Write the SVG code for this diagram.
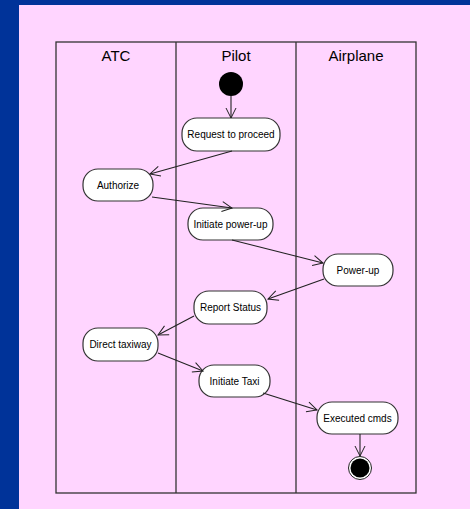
<svg xmlns="http://www.w3.org/2000/svg" width="470" height="509" viewBox="0 0 470 509">
<defs>
<marker id="arr" viewBox="0 0 12 12" refX="11" refY="6" markerWidth="12" markerHeight="12" markerUnits="userSpaceOnUse" orient="auto">
<path d="M1,1 L11,6 L1,11" fill="none" stroke="#222" stroke-width="1"/>
</marker>
</defs>
<style>
.lane{fill:none;stroke:#333;stroke-width:1.3}
.hdr{font-family:"Liberation Sans",Arial,sans-serif;font-size:15px;fill:#000;text-anchor:middle}
.node rect{fill:#fff;stroke:#333;stroke-width:1.2}
.node text{font-family:"Liberation Sans",Arial,sans-serif;font-size:10px;fill:#000;text-anchor:middle;dominant-baseline:central}
.conn line{stroke:#222;stroke-width:1.1;marker-end:url(#arr)}
</style>
<rect x="0" y="0" width="470" height="509" fill="#003399"/>
<rect x="19" y="5" width="451" height="504" fill="#ffd5ff"/>
<g id="lanes">
<rect class="lane" x="56" y="42" width="360" height="451"/>
<line class="lane" x1="176" y1="42" x2="176" y2="493"/>
<line class="lane" x1="296" y1="42" x2="296" y2="493"/>
<text class="hdr" x="116" y="61">ATC</text>
<text class="hdr" x="236" y="61">Pilot</text>
<text class="hdr" x="356" y="61">Airplane</text>
</g>
<g id="start"><circle cx="231" cy="84" r="12" fill="#000"/></g>
<g id="n1" class="node"><rect x="182" y="118" width="98" height="33" rx="15"/><text x="231" y="134.5">Request to proceed</text></g>
<g id="n2" class="node"><rect x="83" y="169" width="70" height="32" rx="15"/><text x="118" y="185">Authorize</text></g>
<g id="n3" class="node"><rect x="188" y="208" width="85" height="32" rx="15"/><text x="230.5" y="224">Initiate power-up</text></g>
<g id="n4" class="node"><rect x="323" y="254" width="70" height="32" rx="15"/><text x="358" y="270">Power-up</text></g>
<g id="n5" class="node"><rect x="194" y="291" width="73" height="33" rx="15"/><text x="230.5" y="307.5">Report Status</text></g>
<g id="n6" class="node"><rect x="83" y="328" width="75" height="33" rx="15"/><text x="120.5" y="344.5">Direct taxiway</text></g>
<g id="n7" class="node"><rect x="199" y="365" width="71" height="32" rx="15"/><text x="234.5" y="381">Initiate Taxi</text></g>
<g id="n8" class="node"><rect x="317" y="402" width="81" height="32" rx="15"/><text x="357.5" y="418">Executed cmds</text></g>
<g id="end"><circle cx="360" cy="468" r="11.5" fill="#fff" stroke="#222" stroke-width="1"/><circle cx="360" cy="468" r="9.5" fill="#000"/></g>
<g id="connectors" class="conn">
<line x1="231" y1="96" x2="231" y2="118"/>
<line x1="232" y1="151" x2="150" y2="174"/>
<line x1="152" y1="197" x2="232" y2="208"/>
<line x1="232" y1="240" x2="323" y2="263"/>
<line x1="324" y1="279" x2="268" y2="299"/>
<line x1="194" y1="316" x2="158" y2="335"/>
<line x1="158" y1="353" x2="203" y2="371"/>
<line x1="263" y1="393" x2="317" y2="410"/>
<line x1="360" y1="434" x2="360" y2="456"/>
</g>
</svg>
